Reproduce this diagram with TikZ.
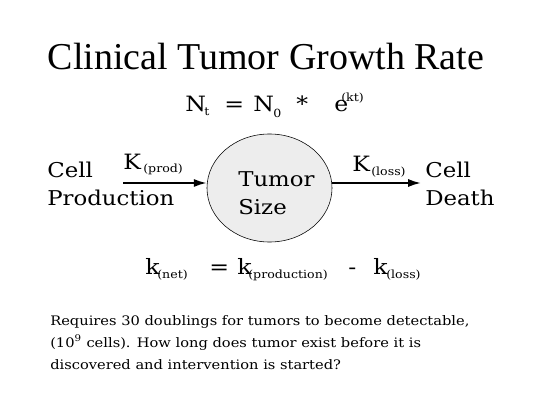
\documentclass[tikz,border=0pt]{standalone}
\usepackage{fontspec}
\setmainfont[FakeStretch=1.12]{DejaVu Serif}
\newfontfamily\titlefont{Liberation Serif}
\usetikzlibrary{arrows.meta,positioning,shapes.geometric}
\tikzset{
  lbl/.style={anchor=north west,align=left,inner sep=0pt,font=\fontsize{14.5}{20}\selectfont},
  eq/.style={anchor=base west,inner sep=0pt,font=\fontsize{15}{16}\selectfont},
  sub/.style={anchor=base west,inner sep=0pt,font=\fontsize{8}{9}\selectfont},
  tumor/.style={draw,ellipse,fill=black!7,minimum width=3.125cm,minimum height=2.7cm,inner sep=0pt},
  arr/.style={-{Latex[length=3.2mm,width=2mm]},line width=1.3pt}
}
\begin{document}
\begin{tikzpicture}[x=0.025cm,y=-0.025cm]
\useasboundingbox (0,0) rectangle (533,400);
\node[font=\titlefont\fontsize{27}{30}\selectfont] (title) at (266,57) {Clinical Tumor Growth Rate};
% growth equation
\node[eq] (Nt) at (185,112) {N};
\node[sub] (Ntsub) at (204,116) {t};
\node[eq] (eqa) at (224,112) {=};
\node[eq] (N0) at (253,112) {N};
\node[sub] (N0sub) at (273,118) {0};
\node[eq] (star) at (296,112) {*};
\node[eq] (e) at (334,112) {e};
\node[sub] (kt) at (341,102) {(kt)};
% tumor and flows
\node[tumor] (size) at (269.5,188) {};
\node[lbl] (sizetxt) at (238,171) {Tumor\\Size};
\node[lbl] (prod) at (47,162) {Cell\\Production};
\node[lbl] (death) at (425,162) {Cell\\Death};
\coordinate (in) at (123,183);
\coordinate (out) at (421,183);
\draw[arr] (in) -- (in -| size.west);
\draw[arr] (out -| size.east) -- (out);
\node[eq] (Kp) at (123,170) {K};
\node[sub] (Kpsub) at (143,173) {(prod)};
\node[eq] (Kl) at (352,172) {K};
\node[sub] (Klsub) at (371,176) {(loss)};
% net rate
\node[eq] (kn) at (145,275) {k};
\node[sub] (knsub) at (157,279) {(net)};
\node[eq] (eqb) at (209,275) {=};
\node[eq] (kpr) at (237,275) {k};
\node[sub] (kprsub) at (248,279) {(production)};
\node[eq] (minus) at (348,275) {-};
\node[eq] (kl) at (373,275) {k};
\node[sub] (klsub) at (386,279) {(loss)};
% question
\node[anchor=north west,align=left,inner sep=0pt,font=\fontsize{9.3}{15.6}\selectfont] (note) at (50,315)
  {Requires 30 doublings for tumors to become detectable,\\(10\textsuperscript{9} cells). How long does tumor exist before it is\\discovered and intervention is started?};
\end{tikzpicture}
\end{document}
